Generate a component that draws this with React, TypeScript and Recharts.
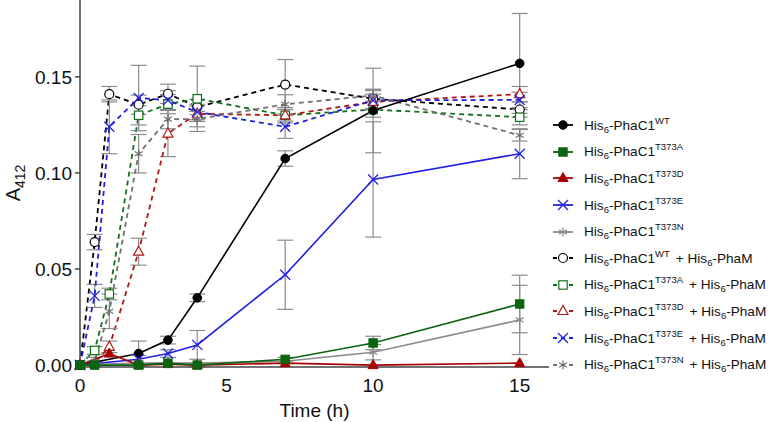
import React from 'react'
import { LineChart, Line, XAxis, YAxis, ErrorBar } from 'recharts'

// time points (h)
const times = [0, 0.5, 1, 2, 3, 4, 7, 10, 15]

// A412 readings, null where no point is drawn
const wt = [0, null, null, 0.006, 0.013, 0.035, 0.1075, 0.1325, 0.157]
const t373a = [0, 0, null, 0, 0.001, 0, 0.003, 0.0115, 0.0318]
const t373d = [0, null, 0.006, 0, 0.0005, 0, 0.001, 0, 0.001]
const t373e = [0, null, null, 0.003, 0.006, 0.0105, 0.047, 0.0966, 0.11]
const t373n = [0, null, null, 0.001, 0.001, 0.001, 0.002, 0.0067, 0.0235]
const wtM = [0, 0.064, 0.141, 0.1355, 0.1412, 0.1343, 0.146, 0.1386, 0.133]
const t373aM = [0, 0.0076, 0.037, 0.13, 0.1358, 0.1386, 0.13, 0.133, 0.129]
const t373dM = [0, 0.001, 0.0095, 0.059, 0.1205, 0.1308, 0.13, 0.137, 0.141]
const t373eM = [0, 0.036, 0.124, 0.139, 0.1378, 0.1317, 0.124, 0.1378, 0.138]
const t373nM = [0, 0.002, 0.028, 0.11, 0.128, 0.128, 0.1357, 0.1403, 0.1196]

// standard deviations
const wtErr = [0, null, null, 0.0065, 0.002, 0.002, 0.004, 0.022, 0.026]
const t373aErr = [0, 0, null, 0, 0, 0.001, 0.001, 0.0035, 0.015]
const t373dErr = [0, null, 0, 0, 0, 0, 0, 0, 0]
const t373eErr = [0, null, null, 0.002, 0.002, 0.0075, 0.018, 0.03, 0.013]
const t373nErr = [0, null, null, 0, 0, 0, 0, 0.004, 0.018]
const wtMErr = [0, 0.004, 0.004, 0.005, 0.005, 0.004, 0.013, 0.005, 0.004]
const t373aMErr = [0, 0.002, 0.003, 0.005, 0.005, 0.017, 0.003, 0.004, 0.004]
const t373dMErr = [0, 0.001, 0.003, 0.007, 0.012, 0.004, 0.004, 0.004, 0.004]
const t373eMErr = [0, 0.006, 0.014, 0.017, 0.005, 0.004, 0.006, 0.005, 0.004]
const t373nMErr = [0, 0.002, 0.009, 0.01, 0.005, 0.004, 0.005, 0.003, 0.003]

const xTicks = [0, 5, 10, 15]
const yTicks = [0, 0.05, 0.1, 0.15]

type Shape = 'circle' | 'square' | 'triangle' | 'x' | 'star'

interface SeriesDef {
    key: string
    values: (number | null)[]
    errors: (number | null)[]
    variant: string
    color: string
    shape: Shape
    open: boolean
}

const series: SeriesDef[] = [
    { key: 'wtM', values: wtM, errors: wtMErr, variant: 'WT', color: '#000000', shape: 'circle', open: true },
    { key: 't373aM', values: t373aM, errors: t373aMErr, variant: 'T373A', color: '#13701a', shape: 'square', open: true },
    { key: 't373dM', values: t373dM, errors: t373dMErr, variant: 'T373D', color: '#b01818', shape: 'triangle', open: true },
    { key: 't373eM', values: t373eM, errors: t373eMErr, variant: 'T373E', color: '#2020e0', shape: 'x', open: true },
    { key: 't373nM', values: t373nM, errors: t373nMErr, variant: 'T373N', color: '#707070', shape: 'star', open: true },
    { key: 'wt', values: wt, errors: wtErr, variant: 'WT', color: '#000000', shape: 'circle', open: false },
    { key: 't373e', values: t373e, errors: t373eErr, variant: 'T373E', color: '#2020e0', shape: 'x', open: false },
    { key: 't373n', values: t373n, errors: t373nErr, variant: 'T373N', color: '#8a8a8a', shape: 'star', open: false },
    { key: 't373d', values: t373d, errors: t373dErr, variant: 'T373D', color: '#a80000', shape: 'triangle', open: false },
    { key: 't373a', values: t373a, errors: t373aErr, variant: 'T373A', color: '#0b6410', shape: 'square', open: false },
]

const legendOrder = ['wt', 't373a', 't373d', 't373e', 't373n', 'wtM', 't373aM', 't373dM', 't373eM', 't373nM']

const data = times.map((t, i) => {
    const row: Record<string, number | null> = { t }
    series.forEach(s => {
        row[s.key] = s.values[i]
        row[s.key + 'Err'] = s.errors[i]
    })
    return row
})

const Marker = ({ cx, cy, color, shape, open }: { cx: number; cy: number; color: string; shape: Shape; open: boolean }) => {
    const fill = open ? '#fff' : color
    const sw = open ? 1.2 : 1
    if (shape === 'circle') return <circle cx={cx} cy={cy} r={open ? 4.5 : 4.3} fill={fill} stroke={color} strokeWidth={sw} />
    if (shape === 'square') return <rect x={cx - 4.2} y={cy - 4.2} width={8.4} height={8.4} fill={fill} stroke={color} strokeWidth={sw} />
    if (shape === 'triangle')
        return <polygon points={`${cx},${cy - 5.5} ${cx + 5},${cy + 3.5} ${cx - 5},${cy + 3.5}`} fill={fill} stroke={color} strokeWidth={sw} />
    if (shape === 'x')
        return (
            <g stroke={color} strokeWidth={1.3}>
                <line x1={cx - 5} y1={cy - 5} x2={cx + 5} y2={cy + 5} />
                <line x1={cx - 5} y1={cy + 5} x2={cx + 5} y2={cy - 5} />
            </g>
        )
    return (
        <g stroke={color} strokeWidth={1.2}>
            <line x1={cx} y1={cy - 4.5} x2={cx} y2={cy + 4.5} />
            <line x1={cx - 4} y1={cy - 2.3} x2={cx + 4} y2={cy + 2.3} />
            <line x1={cx - 4} y1={cy + 2.3} x2={cx + 4} y2={cy - 2.3} />
        </g>
    )
}

const subStyle = { fontSize: 9.5, verticalAlign: -3, lineHeight: 0 }
const supStyle = { fontSize: 9.5, verticalAlign: 6, lineHeight: 0 }

const LegendRow = ({ s }: { s: SeriesDef }) => (
    <div style={{ display: 'flex', alignItems: 'center', height: 26.6 }}>
        <svg width={24} height={14} style={{ marginRight: 9 }}>
            <line x1={2} y1={7} x2={22} y2={7} stroke={s.color} strokeWidth={1.8} strokeDasharray={s.open ? '4 4' : undefined} />
            <Marker cx={12} cy={7} color={s.color} shape={s.shape} open={s.open} />
        </svg>
        <span>
            His<sub style={subStyle}>6</sub>-PhaC1
            <sup style={supStyle}>{s.variant}</sup>
            {s.open && (
                <span style={{ marginLeft: 6 }}>
                    + His<sub style={subStyle}>6</sub>-PhaM
                </span>
            )}
        </span>
    </div>
)

const YLabel = () => (
    <text x={20} y={183} transform="rotate(-90 20 183)" textAnchor="middle" fontSize={20} fill="#111">
        A<tspan fontSize={14} dy={5}>412</tspan>
    </text>
)

export default function App() {
    const font = '"Liberation Sans", Arial, sans-serif'
    return (
        <div style={{ position: 'absolute', left: 0, top: 0, width: 771, height: 422, background: '#fff', fontFamily: font, overflow: 'hidden' }}>
            <LineChart width={771} height={422} data={data} margin={{ top: 0, right: 222, bottom: 0, left: 0 }}>
                <XAxis
                    dataKey="t"
                    type="number"
                    domain={[0, 16]}
                    ticks={xTicks}
                    height={55}
                    tickLine={false}
                    tickMargin={6}
                    stroke="#444"
                    strokeWidth={1.5}
                    tick={{ fill: '#111', fontSize: 19, fontFamily: font }}
                    label={{ value: 'Time (h)', position: 'insideBottom', offset: 5, fill: '#111', fontSize: 19, fontFamily: font }}
                />
                <YAxis
                    type="number"
                    domain={[0, 0.19]}
                    ticks={yTicks}
                    width={80}
                    tickSize={5}
                    tickMargin={3}
                    stroke="#444"
                    strokeWidth={1.5}
                    tickFormatter={(v: number) => v.toFixed(2)}
                    tick={{ fill: '#111', fontSize: 19, fontFamily: font }}
                    label={<YLabel />}
                />
                {series.map(s => (
                    <Line
                        key={s.key}
                        dataKey={s.key}
                        stroke={s.color}
                        strokeWidth={s.open ? 1.8 : 1.6}
                        strokeDasharray={s.open ? '5 4' : undefined}
                        connectNulls
                        isAnimationActive={false}
                        dot={(p: any) =>
                            p.cy == null || p.value == null ? (
                                <g key={p.key ?? p.index} />
                            ) : (
                                <g key={p.key ?? p.index}>
                                    <Marker cx={p.cx} cy={p.cy} color={s.color} shape={s.shape} open={s.open} />
                                </g>
                            )
                        }
                    >
                        <ErrorBar dataKey={s.key + 'Err'} width={8} stroke="#8c8c8c" strokeWidth={1.2} />
                    </Line>
                ))}
            </LineChart>
            <div style={{ position: 'absolute', left: 551, top: 112, fontSize: 13.6, color: '#111', whiteSpace: 'nowrap' }}>
                {legendOrder.map(k => {
                    const s = series.find(x => x.key === k)!
                    return <LegendRow key={k} s={s} />
                })}
            </div>
        </div>
    )
}
